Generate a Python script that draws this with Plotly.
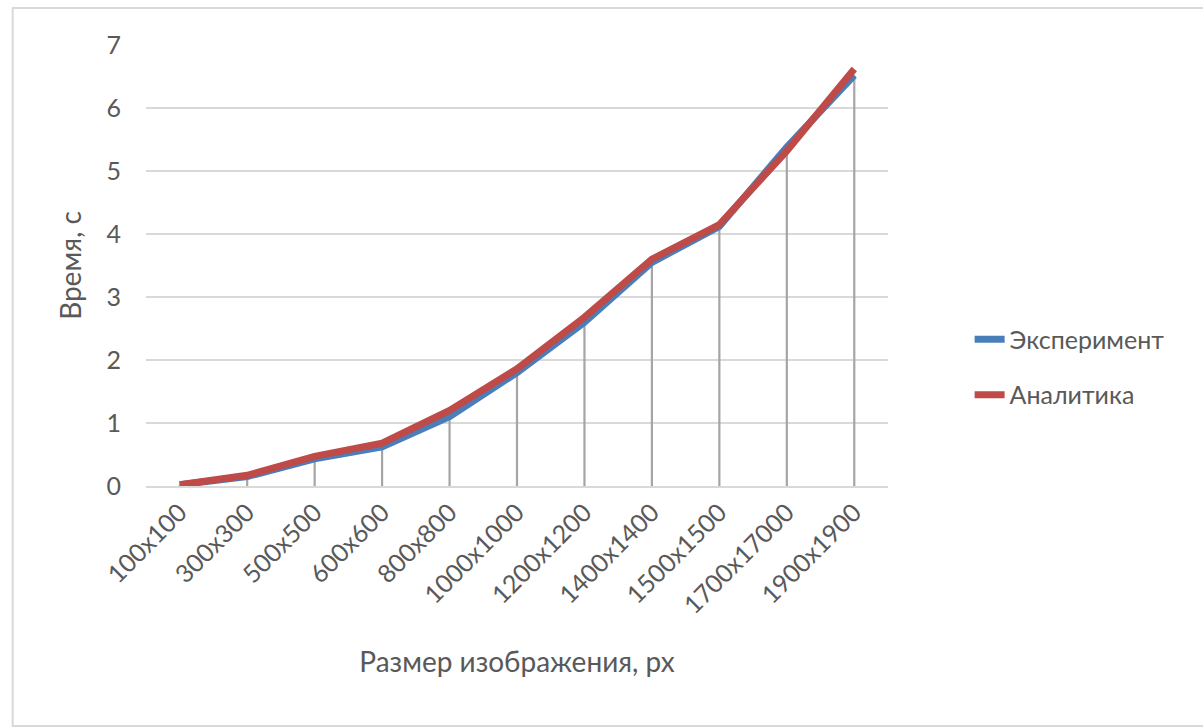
import plotly.graph_objects as go

# Image sizes (category axis) and processing times, seconds
sizes = ["100x100", "300x300", "500x500", "600x600", "800x800", "1000x1000",
         "1200x1200", "1400x1400", "1500x1500", "1700x17000", "1900x1900"]
experiment = [0.02, 0.15, 0.43, 0.62, 1.10, 1.80, 2.60, 3.55, 4.12, 5.38, 6.52]
analytics = [0.02, 0.17, 0.47, 0.68, 1.20, 1.86, 2.68, 3.60, 4.15, 5.32, 6.62]

y_ticks = [0, 1, 2, 3, 4, 5, 6, 7]

FONT = "Lato"
TEXT = "#595959"
GRID = "#d9d9d9"

# Drop lines: vertical segments from each point down to the axis
drop_x, drop_y = [], []
for cat, top in zip(sizes, experiment):
    drop_x += [cat, cat, None]
    drop_y += [0, top, None]

fig = go.Figure()
fig.add_trace(go.Scatter(
    x=drop_x, y=drop_y, mode="lines",
    line=dict(color="#a5a5a5", width=2.2),
    showlegend=False, hoverinfo="skip",
))
fig.add_trace(go.Scatter(
    x=sizes, y=experiment, mode="lines", name="Эксперимент",
    legendgroup="exp",
    line=dict(color="#4a7ebb", width=7),
))
fig.add_trace(go.Scatter(
    x=sizes, y=analytics, mode="lines", name="Аналитика",
    legendgroup="an",
    line=dict(color="#be4b48", width=7),
))

fig.update_layout(
    width=1203, height=728,
    margin=dict(l=146, r=315, t=45, b=242),
    paper_bgcolor="white", plot_bgcolor="white",
    font=dict(family=FONT, size=25, color=TEXT),
    showlegend=True,
    legend=dict(
        x=1.11, y=0.27, xanchor="left", yanchor="middle",
        font=dict(family=FONT, size=25, color=TEXT),
        tracegroupgap=20, bgcolor="rgba(0,0,0,0)",
    ),
    shapes=[dict(
        type="rect", xref="paper", yref="paper",
        x0=-136 / 757, x1=1.45, y0=-240 / 441, y1=1 + 37 / 441,
        line=dict(color="#d9d9d9", width=2), layer="below",
    )],
)

fig.update_xaxes(
    type="category", range=[-0.5, len(sizes) - 0.5], tickangle=-45,
    showgrid=False, showline=True, linecolor=GRID, linewidth=2,
    ticks="", tickfont=dict(family=FONT, size=25, color=TEXT),
    title=dict(text="Размер изображения, px", standoff=34,
               font=dict(family=FONT, size=28, color=TEXT)),
)
fig.update_yaxes(
    range=[0, 7], tickvals=y_ticks,
    showgrid=True, gridcolor=GRID, gridwidth=2,
    zeroline=False, showline=False, ticks="",
    ticklabelstandoff=24,
    tickfont=dict(family=FONT, size=25, color=TEXT),
    title=dict(text="Время, с", standoff=16,
               font=dict(family=FONT, size=28, color=TEXT)),
)

fig.write_html("out.html")
